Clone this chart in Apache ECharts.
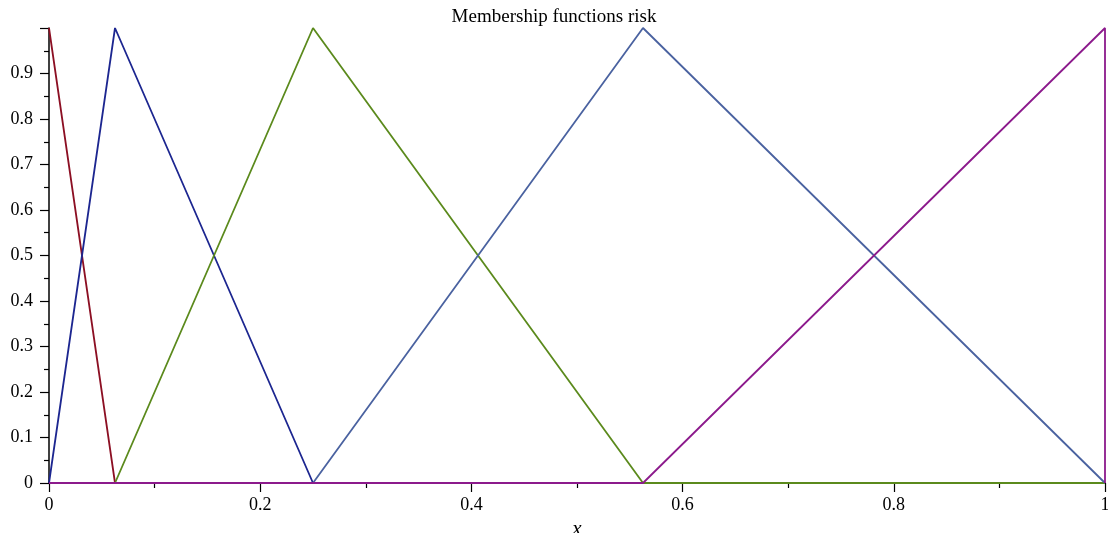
<!DOCTYPE html>
<html><head><meta charset="utf-8">
<script src="https://cdn.jsdelivr.net/npm/echarts@6/dist/echarts.min.js"></script>
<style>html,body{margin:0;padding:0;background:#fff}#c{width:1108px;height:533px}</style>
</head><body><div id="c"></div>
<script>
const titleText = "Membership functions risk";
const xName = "x";
const redX = [0, 0.0625, 1];
const redY = [1, 0, 0];
const navyX = [0, 0.0625, 0.25, 1];
const navyY = [0, 1, 0, 0];
const greenX = [0, 0.0625, 0.25, 0.5625, 1];
const greenY = [0, 0, 1, 0, 0];
const slateX = [0, 0.25, 0.5625, 1];
const slateY = [0, 0, 1, 0];
const purpleX = [0, 0.5625, 1, 1];
const purpleY = [0, 0, 1, 0];
const colors = ['#8c0f23', '#1c2690', '#5b8a1c', '#4a62a0', '#8c1a8c'];
const sets = [[redX, redY], [navyX, navyY], [greenX, greenY], [slateX, slateY], [purpleX, purpleY]];
const font = '"Liberation Serif", "DejaVu Serif", serif';
const chart = echarts.init(document.getElementById('c'));
chart.setOption({
  animation: false,
  backgroundColor: '#fff',
  title: { text: titleText, left: 'center', top: 3, textStyle: { fontFamily: font, fontSize: 19, fontWeight: 'normal', color: '#000' } },
  grid: { left: 49, right: 3, top: 28, bottom: 50, containLabel: false, outerBoundsMode: 'none' },
  xAxis: {
    type: 'value', min: 0, max: 1, interval: 0.2,
    name: xName, nameLocation: 'middle', nameGap: 32,
    nameTextStyle: { fontFamily: font, fontSize: 21, fontStyle: 'italic', color: '#000' },
    axisLine: { show: true, onZero: false, lineStyle: { color: '#000', width: 1.5 } },
    axisTick: { show: true, length: 9, lineStyle: { color: '#000', width: 1.2 } },
    minorTick: { show: true, splitNumber: 2, length: 5, lineStyle: { color: '#000', width: 1.2 } },
    splitLine: { show: false },
    axisLabel: { margin: 13, fontFamily: font, fontSize: 18, color: '#000' }
  },
  yAxis: {
    type: 'value', min: 0, max: 1, interval: 0.1,
    axisLine: { show: true, onZero: false, lineStyle: { color: '#000', width: 1.5 } },
    axisTick: { show: true, length: 9, lineStyle: { color: '#000', width: 1.2 } },
    minorTick: { show: true, splitNumber: 2, length: 5, lineStyle: { color: '#000', width: 1.2 } },
    splitLine: { show: false },
    axisLabel: { margin: 16, fontFamily: font, fontSize: 18, color: '#000', showMaxLabel: false }
  },
  series: sets.map((s, i) => ({
    type: 'line',
    data: s[0].map((x, j) => [x, s[1][j]]),
    showSymbol: false,
    lineStyle: { color: colors[i], width: 1.8 },
    itemStyle: { color: colors[i] },
    z: 2 + i
  }))
});
</script></body></html>
